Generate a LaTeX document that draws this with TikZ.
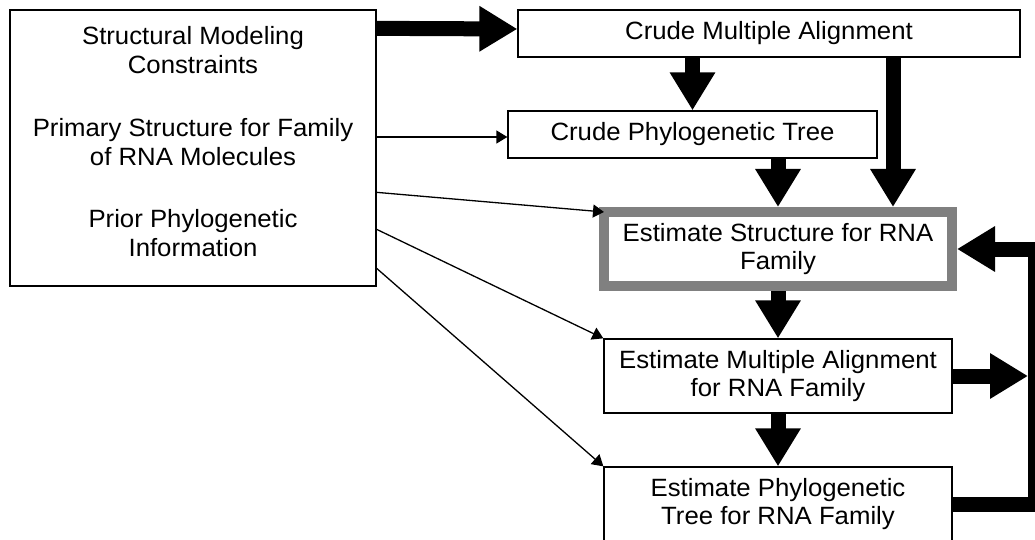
\documentclass[tikz,border=0pt]{standalone}
\usepackage{fontspec}
\setmainfont{Liberation Sans}[FakeStretch=1.03]
\usetikzlibrary{arrows.meta}
\definecolor{framegray}{RGB}{128,128,128}
\begin{document}
\begin{tikzpicture}[x=1pt,y=-1pt,
  font=\fontsize{25}{28}\selectfont,
  box/.style={draw=black, line width=1.3pt, fill=white, rectangle,
    align=center, inner sep=0pt},
  keybox/.style={box, draw=framegray, line width=10pt},
  bigarrow/.style={line width=15pt, line join=miter, -{Triangle[length=38pt,width=43pt]}},
  thinarrow/.style={line width=1.3pt, -{Triangle[length=11pt,width=13pt]}}]

\useasboundingbox (0,0) rectangle (1035,540);
\fill[white] (0,0) rectangle (1035,540);
\clip (0,0) rectangle (1035,540);

% inputs
\node[box, minimum width=366pt, minimum height=276pt, text depth=14pt,
  font=\fontsize{25}{29}\selectfont] (src) at (193,148)
  {Structural Modeling\\Constraints\\[34pt]Primary Structure for Family\\of RNA Molecules\\[33pt]Prior Phylogenetic\\Information};

% crude estimates
\node[box, minimum width=502pt, minimum height=47pt] (cma) at (769,33.5) {Crude Multiple Alignment};
\node[box, minimum width=369pt, minimum height=47pt] (cpt) at (692.5,134.5) {Crude Phylogenetic Tree};

% iterated estimates
\node[keybox, minimum width=348pt, minimum height=74pt] (est) at (778,249) {Estimate Structure for RNA\\Family};
\node[box, minimum width=348pt, minimum height=74pt] (ema) at (778,376) {Estimate Multiple Alignment\\for RNA Family};
\node[box, minimum width=348pt, minimum height=74pt] (ept) at (778,504) {Estimate Phylogenetic\\Tree for RNA Family};

% helper points
\coordinate (c3) at ([xshift=115pt]est.north);
\coordinate (rail) at (1035,249);
\coordinate (railL) at (1028,376);

% thick flow arrows
\draw[bigarrow] ([yshift=-19pt]src.north east) -- ([yshift=4.5pt]cma.west);
\draw[bigarrow] (cpt.north |- cma.south) -- (cpt.north);
\draw[bigarrow] (est.north |- cpt.south) -- (est.north);
\draw[bigarrow] (c3 |- cma.south) -- (c3);
\draw[bigarrow] (est.south) -- (ema.north);
\draw[bigarrow] (ema.south) -- (ept.north);
\draw[bigarrow] (ema.east) -- (railL);

% feedback loop back to the structure estimate
\draw[bigarrow] (ept.east) -| (rail) -- (est.east);

% thin input arrows
\draw[thinarrow] ([yshift=-2.5pt]cpt.west -| src.east) -- ([yshift=-2.5pt]cpt.west);
\draw[thinarrow] ([yshift=-183pt]src.north east) -- ([shift={(5pt,-5pt)}]est.north west);
\draw[thinarrow] ([yshift=-220pt]src.north east) -- (ema.north west);
\draw[thinarrow] ([yshift=-259pt]src.north east) -- (ept.north west);
\end{tikzpicture}
\end{document}
